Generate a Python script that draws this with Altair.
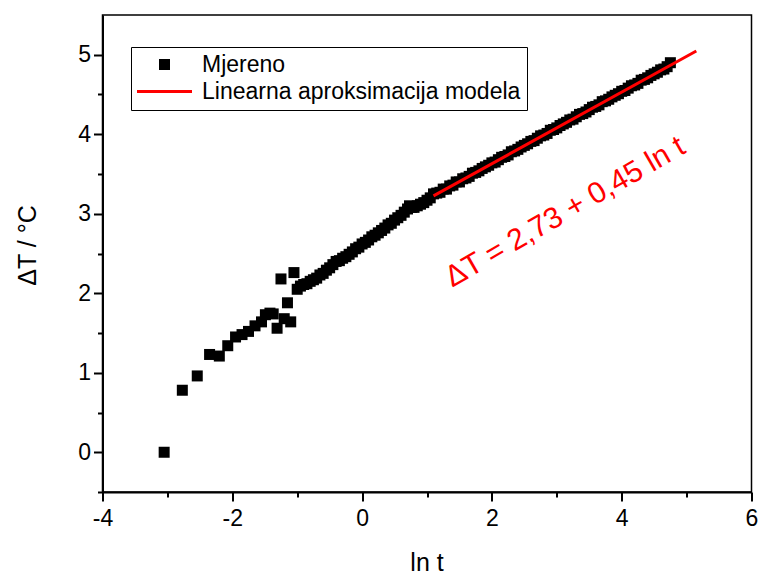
import altair as alt
import pandas as pd

# Measured temperature rise against ln t (early, scattered readings)
ln_t_early = [-3.05, -2.77, -2.54, -2.35, -2.20, -2.07, -1.95, -1.85, -1.75, -1.65,
              -1.55, -1.49, -1.42, -1.37, -1.31, -1.25, -1.20, -1.15, -1.10, -1.05, -1.00]
dT_early = [0.00, 0.78, 0.96, 1.23, 1.21, 1.34, 1.45, 1.48, 1.52, 1.59,
            1.64, 1.73, 1.75, 1.74, 1.56, 2.18, 1.68, 1.88, 1.64, 2.26, 2.05]

# Dense part of the measurement
ln_t_main = [-0.95, -0.90, -0.85, -0.80, -0.75, -0.70, -0.65, -0.60, -0.55, -0.50,
             -0.45, -0.40, -0.35, -0.30, -0.25, -0.20, -0.15, -0.10, -0.05, 0.00,
             0.05, 0.10, 0.15, 0.20, 0.25, 0.30, 0.35, 0.40, 0.45, 0.50,
             0.55, 0.60, 0.65, 0.70, 0.73, 0.76, 0.80, 0.85, 0.90, 0.95,
             1.00, 1.05, 1.10, 1.15, 1.20, 1.25, 1.30, 1.35, 1.40, 1.45,
             1.50, 1.55, 1.60, 1.65, 1.70, 1.75, 1.80, 1.85, 1.90, 1.95,
             2.00, 2.05, 2.10, 2.15, 2.20, 2.25, 2.30, 2.35, 2.40, 2.45,
             2.50, 2.55, 2.60, 2.65, 2.70, 2.75, 2.80, 2.85, 2.90, 2.95,
             3.00, 3.05, 3.10, 3.15, 3.20, 3.25, 3.30, 3.35, 3.40, 3.45,
             3.50, 3.55, 3.60, 3.65, 3.70, 3.75, 3.80, 3.85, 3.90, 3.95,
             4.00, 4.05, 4.10, 4.15, 4.20, 4.25, 4.30, 4.35, 4.40, 4.45,
             4.50, 4.55, 4.60, 4.65, 4.70, 4.75]
dT_main = [2.09, 2.11, 2.12, 2.15, 2.17, 2.19, 2.23, 2.25, 2.29, 2.32,
           2.36, 2.40, 2.41, 2.44, 2.46, 2.49, 2.52, 2.56, 2.58, 2.62,
           2.64, 2.67, 2.71, 2.73, 2.76, 2.79, 2.82, 2.86, 2.88, 2.92,
           2.95, 2.98, 3.02, 3.06, 3.10, 3.08, 3.08, 3.10, 3.12, 3.14,
           3.17, 3.20, 3.25, 3.26, 3.27, 3.31, 3.31, 3.35, 3.36, 3.40,
           3.40, 3.44, 3.45, 3.47, 3.51, 3.52, 3.54, 3.57, 3.59, 3.61,
           3.64, 3.65, 3.68, 3.71, 3.72, 3.74, 3.78, 3.79, 3.81, 3.84,
           3.86, 3.88, 3.91, 3.92, 3.95, 3.98, 3.99, 4.01, 4.05, 4.06,
           4.08, 4.11, 4.13, 4.15, 4.18, 4.19, 4.22, 4.25, 4.26, 4.28,
           4.31, 4.34, 4.35, 4.37, 4.41, 4.42, 4.44, 4.47, 4.49, 4.51,
           4.54, 4.55, 4.58, 4.61, 4.62, 4.64, 4.68, 4.69, 4.71, 4.74,
           4.76, 4.78, 4.81, 4.82, 4.85, 4.90]

# Linear model: dT = 2.73 + 0.45 ln t
intercept = 2.73
slope = 0.45
fit_ln_t = [1.10, 5.15]

series = ["Mjereno", "Linearna aproksimacija modela"]
equation = "ΔT = 2,73 + 0,45 ln t"

FONT = "Liberation Sans"

measured = pd.DataFrame({
    "ln_t": ln_t_early + ln_t_main,
    "dT": dT_early + dT_main,
    "series": series[0],
})
fit = pd.DataFrame({
    "ln_t": fit_ln_t,
    "dT": [intercept + slope * v for v in fit_ln_t],
})
note = pd.DataFrame({"ln_t": [3.13], "dT": [3.02], "label": [equation]})

xs = alt.Scale(domain=[-4, 6], nice=False, zero=False)
ys = alt.Scale(domain=[-0.5, 5.5], nice=False, zero=False)

# plain hyphen for negative tick labels
hyphen_labels = "datum.value < 0 ? '-' + abs(datum.value) : '' + datum.value"

axis_common = dict(grid=False, domainColor="black", tickColor="black",
                   tickWidth=2, labelColor="black", labelFont=FONT,
                   labelFontSize=23, titleFont=FONT, titleColor="black",
                   titleFontWeight="normal", labelFlush=False, labelOverlap=False)

x_major = alt.Axis(values=[-4, -2, 0, 2, 4, 6], orient="bottom", tickSize=9,
                   domainWidth=2, labelPadding=6, labelExpr=hyphen_labels,
                   title="ln t", titleFontSize=25,
                   titleX=324, titleY=70, titleBaseline="middle", titleAlign="center",
                   **axis_common)
y_major = alt.Axis(values=[0, 1, 2, 3, 4, 5], orient="left", tickSize=9,
                   domainWidth=2, labelPadding=3, title="ΔT / °C", titleFontSize=25,
                   titleX=-75, titleY=230, titleAngle=270, titleBaseline="middle",
                   titleAlign="center", **axis_common)
x_minor = alt.Axis(values=[-3, -1, 1, 3, 5], orient="bottom", tickSize=5,
                   domain=False, labels=False, title=None, **axis_common)
y_minor = alt.Axis(values=[-0.5, 0.5, 1.5, 2.5, 3.5, 4.5], orient="left", tickSize=5,
                   domain=False, labels=False, title=None, **axis_common)

legend = alt.Legend(title=None, orient="none", legendX=28.5, legendY=32,
                    strokeColor="black", padding=6, labelFont=FONT, labelFontSize=23,
                    labelColor="black", labelLimit=500, symbolOffset=16, labelOffset=26,
                    rowPadding=3, symbolSize=121, symbolStrokeWidth=0)

line_symbol = "M-5,-0.27L5,-0.27L5,0.27L-5,0.27Z"

points = alt.Chart(measured).mark_point(
    filled=True, opacity=1, size=121, strokeWidth=0
).encode(
    x=alt.X("ln_t:Q", scale=xs, axis=x_major),
    y=alt.Y("dT:Q", scale=ys, axis=y_major),
    color=alt.Color("series:N", scale=alt.Scale(domain=series, range=["#000000", "#ff0000"]),
                    legend=legend),
    shape=alt.Shape("series:N", scale=alt.Scale(domain=series, range=["square", line_symbol]),
                    legend=legend),
)

fit_line = alt.Chart(fit).mark_line(color="#ff0000", strokeWidth=3).encode(
    x=alt.X("ln_t:Q", scale=xs, axis=x_minor),
    y=alt.Y("dT:Q", scale=ys, axis=y_minor),
)

eq_text = alt.Chart(note).mark_text(
    angle=330, color="#ff0000", font=FONT, fontSize=30, align="center", baseline="middle"
).encode(
    x=alt.X("ln_t:Q", scale=xs, axis=None),
    y=alt.Y("dT:Q", scale=ys, axis=None),
    text="label:N",
)

chart = alt.layer(points, fit_line, eq_text).resolve_axis(
    x="independent", y="independent"
).properties(
    width=649, height=477,
    autosize=alt.AutoSizeParams(type="none"),
    padding={"left": 102.5, "top": 15, "right": 7.5, "bottom": 86},
    background="white",
).configure_view(stroke="black", strokeWidth=1.5)

chart.save("out.html", embed_options={"renderer": "svg", "actions": False})
